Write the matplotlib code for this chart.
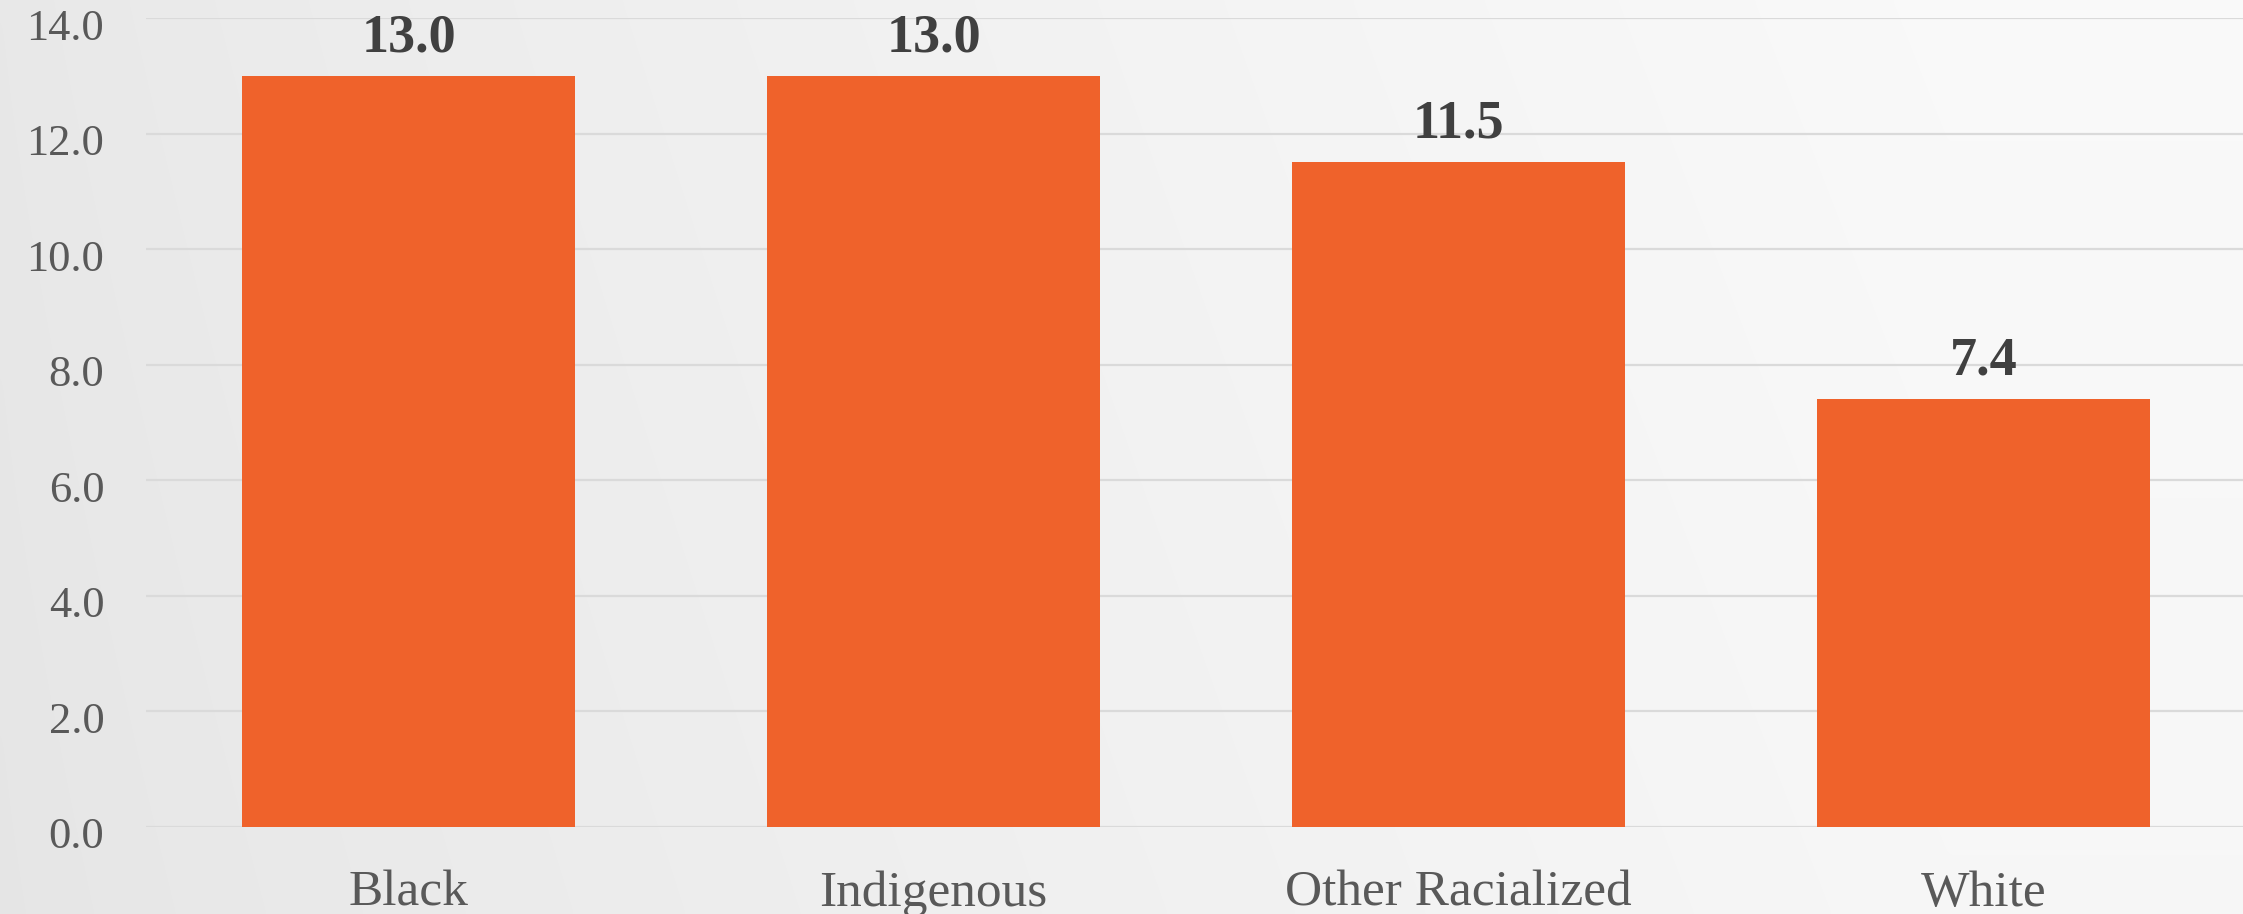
import numpy as np
import matplotlib
matplotlib.use("Agg")
import matplotlib.pyplot as plt
from matplotlib import transforms

categories = ["Black", "Indigenous", "Other Racialized", "White"]
values = [13.0, 13.0, 11.5, 7.4]
yticks = [0, 2, 4, 6, 8, 10, 12, 14]

BAR = "#EF622B"
TEXT = "#595959"
LABEL = "#404040"
GRID = "#dadada"

plt.rcParams["font.family"] = ["Liberation Serif", "DejaVu Serif"]

W, H, DPI = 2243, 914, 100
fig = plt.figure(figsize=(W / DPI, H / DPI), dpi=DPI)

# soft light-grey background that brightens towards the right
bg = fig.add_axes([0, 0, 1, 1], zorder=-10)
xx, yy = np.meshgrid(np.linspace(0, 1, 400), np.linspace(0, 1, 200))
shade = 0.90 + 0.068 * np.clip(xx * 1.15, 0, 1) ** 0.8 + 0.01 * yy
bg.imshow(np.dstack([shade] * 3), extent=[0, 1, 0, 1], aspect="auto",
          origin="lower", interpolation="bicubic")
bg.set_axis_off()

ax = fig.add_axes([146 / W, 87 / H, 2100 / W, 809 / H])
ax.set_facecolor("none")

x = np.arange(len(categories))
ax.bar(x, values, width=0.633, color=BAR, zorder=3)

for xi, v in zip(x, values):
    ax.annotate(f"{v:.1f}", (xi, v), xytext=(0, 9), textcoords="offset points",
                ha="center", va="bottom", fontsize=39, fontweight="bold",
                color=LABEL, zorder=4)

ax.set_xlim(-0.5, len(categories) - 0.5)
ax.set_ylim(0, 14)
ax.set_yticks(yticks)
ax.set_yticklabels([f"{t:.1f}" for t in yticks])
ax.set_xticks(x)
ax.set_xticklabels(categories)

ax.yaxis.grid(True, color=GRID, linewidth=1.6, zorder=0)
ax.set_axisbelow(True)
for s in ax.spines.values():
    s.set_visible(False)
ax.tick_params(axis="both", length=0, colors=TEXT)
ax.tick_params(axis="y", labelsize=32, pad=30)
ax.tick_params(axis="x", labelsize=37, pad=31)

shift = transforms.ScaledTranslation(0, -6 / DPI, fig.dpi_scale_trans)
for lab in ax.get_yticklabels():
    lab.set_transform(lab.get_transform() + shift)

fig.savefig("out.png", dpi=DPI)
